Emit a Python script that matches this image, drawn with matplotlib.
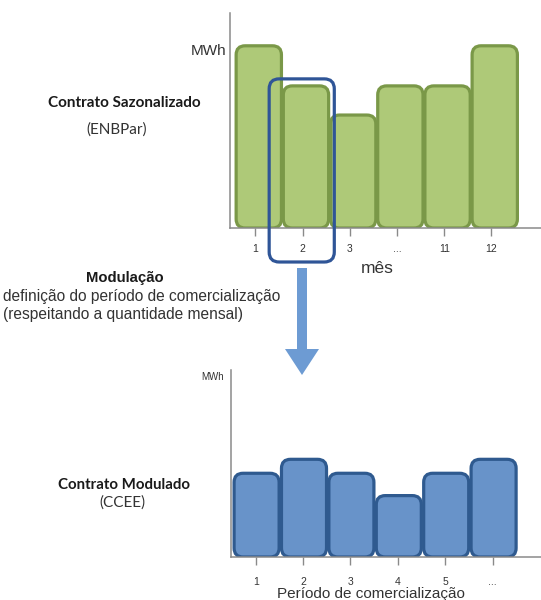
#!/usr/bin/env python3
"""Seasonal contract vs. modulated contract diagram (two rounded bar charts)."""

import matplotlib
matplotlib.use("Agg")
import matplotlib.pyplot as plt
from matplotlib.patches import FancyBboxPatch, FancyArrow

W, H = 541, 600  # figure size in pixels (dpi 100)

month_labels = ["1", "2", "3", "...", "11", "12"]
month_mwh = [10.0, 7.8, 6.2, 7.8, 7.8, 10.0]
period_labels = ["1", "2", "3", "4", "5", "..."]
period_mwh = [6.0, 7.0, 6.0, 4.4, 6.0, 7.0]
highlight_month = 1  # index of month "2"

GREEN_FACE, GREEN_EDGE = "#aec978", "#7a9848"
BLUE_FACE, BLUE_EDGE = "#6893c9", "#2f5a8f"
AXIS_GRAY = "#8a8a8a"
BOX_BLUE = "#2f5597"
ARROW_BLUE = "#6d9bd3"
TEXT_FONT = ["Lato", "DejaVu Sans"]
ARIAL = ["Liberation Sans", "DejaVu Sans"]


def px_axes(fig, left, top, right, bottom):
    return fig.add_axes([left / W, 1 - bottom / H, (right - left) / W, (bottom - top) / H])


def style_axes(ax, pad):
    for side in ("top", "right"):
        ax.spines[side].set_visible(False)
    for side in ("left", "bottom"):
        ax.spines[side].set_color(AXIS_GRAY)
        ax.spines[side].set_linewidth(1.1)
    ax.set_yticks([])
    ax.tick_params(axis="x", direction="out", length=5.5, width=1, color=AXIS_GRAY,
                   labelsize=7.5, labelcolor="#333333", pad=pad)
    for lab in ax.get_xticklabels():
        lab.set_fontfamily(ARIAL)


def rounded_bars(ax, values, offset, width, face, edge, radius_px):
    xs = [i + offset for i in range(len(values))]
    bars = ax.bar(xs, values, width=width)
    x0, x1 = ax.get_xlim()
    y0, y1 = ax.get_ylim()
    bbox = ax.get_window_extent()
    xu = (x1 - x0) / bbox.width
    yu = (y1 - y0) / bbox.height
    for b in bars:
        patch = FancyBboxPatch(
            (b.get_x(), b.get_y()), b.get_width(), b.get_height(),
            boxstyle=f"round,pad=0,rounding_size={radius_px * xu}",
            mutation_aspect=yu / xu,
            facecolor=face, edgecolor=edge, linewidth=2.3, zorder=2,
        )
        ax.add_patch(patch)
        b.remove()
    return xu, yu


def main() -> None:
    fig = plt.figure(figsize=(W / 100, H / 100), dpi=100)

    # ---- top chart: seasonal contract ----
    ax1 = px_axes(fig, 230, 13, W, 228)
    ax1.set_xlim(-0.54, 6.05)
    ax1.set_ylim(0, 11.8)
    xu, yu = rounded_bars(ax1, month_mwh, 0.07, 0.96, GREEN_FACE, GREEN_EDGE, 9)
    ax1.set_xticks(range(len(month_labels)))
    ax1.set_xticklabels(month_labels)
    style_axes(ax1, 6)
    ax1.set_xlabel("mês", fontsize=12.5, family=ARIAL, color="#333333")
    ax1.xaxis.set_label_coords(0.473, -0.154)
    ax1.text(-0.62, max(month_mwh) + 0.1, "MWh", ha="right", va="top", fontsize=11,
             family=ARIAL, color="#333333")

    # highlight box around month 2
    h = highlight_month
    hl = FancyBboxPatch(
        (h - 0.71, -34 * yu), 1.38, month_mwh[h] + 41 * yu,
        boxstyle=f"round,pad=0,rounding_size={10 * xu}", mutation_aspect=yu / xu,
        facecolor="none", edgecolor=BOX_BLUE, linewidth=2.3, zorder=5, clip_on=False,
    )
    ax1.add_patch(hl)

    # ---- bottom chart: modulated contract ----
    ax2 = px_axes(fig, 231, 370, W, 557)
    ax2.set_xlim(-0.52, 6.02)
    ax2.set_ylim(0, 13.4)
    rounded_bars(ax2, period_mwh, 0.02, 0.95, BLUE_FACE, BLUE_EDGE, 9)
    ax2.set_xticks(range(len(period_labels)))
    ax2.set_xticklabels(period_labels)
    style_axes(ax2, 9)
    ax2.set_xlabel("Período de comercialização", fontsize=11, family=ARIAL,
                   color="#333333")
    ax2.xaxis.set_label_coords(0.452, -0.163)
    ax2.text(-0.06, 0.965, "MWh", transform=ax2.transAxes, ha="center", va="center",
             fontsize=7, family=ARIAL, color="#333333")

    # ---- overlay in pixel units for labels and the arrow ----
    ov = fig.add_axes([0, 0, 1, 1], facecolor="none")
    ov.set_xlim(0, W)
    ov.set_ylim(H, 0)
    ov.axis("off")

    ov.add_patch(FancyArrow(302, 268, 0, 107, width=10, head_width=34, head_length=26,
                            length_includes_head=True, color=ARROW_BLUE, linewidth=0))

    ov.text(124, 103, "Contrato Sazonalizado", ha="center", va="center",
            fontsize=11, fontweight="bold", family=TEXT_FONT, color="#1a1a1a")
    ov.text(117, 130, "(ENBPar)", ha="center", va="center",
            fontsize=11, family=TEXT_FONT, color="#333333")

    ov.text(125, 278, "Modulação", ha="center", va="center",
            fontsize=10.7, fontweight="bold", family=ARIAL, color="#1a1a1a")
    ov.text(3, 297, "definição do período de comercialização", ha="left", va="center",
            fontsize=11.2, family=ARIAL, color="#333333")
    ov.text(3, 314, "(respeitando a quantidade mensal)", ha="left", va="center",
            fontsize=11.2, family=ARIAL, color="#333333")

    ov.text(124, 485, "Contrato Modulado", ha="center", va="center",
            fontsize=10.8, fontweight="bold", family=TEXT_FONT, color="#1a1a1a")
    ov.text(122, 503, "(CCEE)", ha="center", va="center",
            fontsize=11, family=TEXT_FONT, color="#333333")

    fig.savefig("out.png", dpi=100)
    plt.close(fig)


if __name__ == "__main__":
    main()
